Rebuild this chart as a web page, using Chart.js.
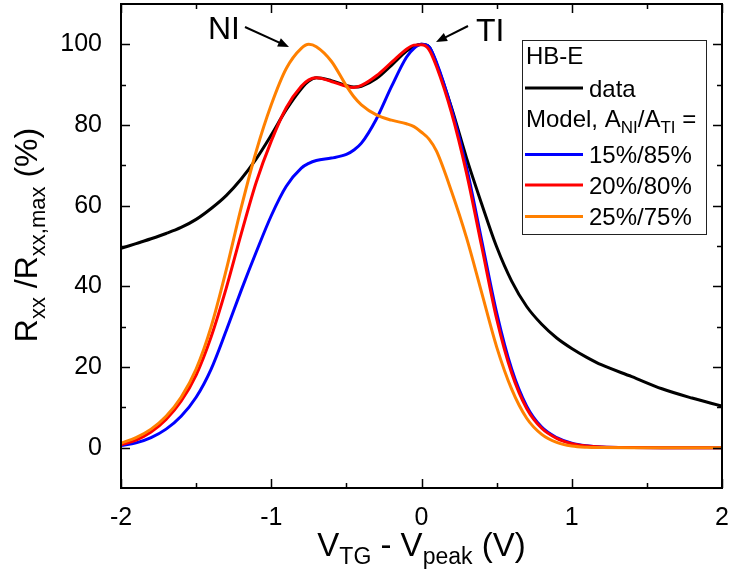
<!DOCTYPE html>
<html>
<head>
<meta charset="utf-8">
<script src="https://cdn.jsdelivr.net/npm/chart.js@4.4.0/dist/chart.umd.min.js"></script>
<style>
    html, body { margin: 0; padding: 0; background: #fff; }
</style>
</head>
<body>
<canvas id="chart" width="729" height="574"></canvas>
<script>
// valores (V_TG - V_peak en V, R/Rmax en %)
const xVals = [-2, -1.9, -1.8, -1.7, -1.6, -1.5, -1.4, -1.3, -1.2, -1.1,
    -1.0, -0.9, -0.8, -0.75, -0.7, -0.6, -0.5, -0.45, -0.4, -0.3,
    -0.2, -0.1, -0.05, 0, 0.05, 0.1, 0.2, 0.3, 0.4, 0.5,
    0.6, 0.7, 0.8, 0.9, 1.0, 1.1, 1.2, 1.4, 1.6, 1.8, 2.0];

const dataHB = [49.4, 50.6, 51.8, 53.1, 54.6, 56.6, 59.3, 62.5, 66.6, 71.6,
    77.5, 83.8, 89.0, 90.9, 91.7, 91.0, 89.8, 89.4, 89.6, 91.5,
    94.8, 98.3, 99.5, 100, 99.4, 95.2, 84.3, 71.8, 60.5, 49.8,
    41.3, 35.0, 30.6, 27.2, 24.6, 22.4, 20.5, 17.6, 14.6, 12.3, 10.3];

const model15 = [0.5, 1.2, 2.5, 4.6, 7.8, 12.5, 19.5, 29.0, 39.0, 48.5,
    57.5, 64.8, 69.3, 70.5, 71.2, 71.8, 72.7, 73.8, 75.5, 81.5,
    89.5, 96.8, 99.0, 100, 99.4, 95.5, 84.0, 69.5, 51.5, 33.5,
    19.5, 10.3, 5.1, 2.5, 1.1, 0.45, 0.15, 0.02, 0, 0, 0];

const model20 = [0.7, 1.9, 3.9, 7.0, 11.5, 18.0, 27.5, 39.5, 53.0, 65.8,
    76.0, 84.3, 89.6, 91.2, 91.7, 90.8, 89.6, 89.3, 89.8, 92.2,
    95.5, 98.8, 99.8, 99.9, 98.7, 94.5, 83.0, 68.0, 50.0, 32.0,
    18.5, 9.7, 4.8, 2.3, 1.0, 0.4, 0.15, 0.02, 0, 0, 0];

const model25 = [1.1, 2.5, 4.6, 7.8, 12.5, 19.5, 30.0, 44.0, 59.5, 73.5,
    85.0, 94.0, 99.0, 100, 99.4, 95.8, 89.7, 87.0, 85.0, 82.5,
    81.2, 80.3, 79.6, 78.2, 76.5, 73.5, 63.5, 52.0, 38.5, 25.0,
    14.5, 7.3, 3.3, 1.3, 0.4, 0.1, 0.03, 0, 0, 0, 0];

const seriesLabels = ['data', '15%/85%', '20%/80%', '25%/75%'];
const seriesColors = ['#000000', '#0000FF', '#FF0000', '#FF8000'];

const xTicks = [-2, -1, 0, 1, 2];
const xMinor = [-1.5, -0.5, 0.5, 1.5];
const yTicks = [0, 20, 40, 60, 80, 100];
const yMinor = [10, 30, 50, 70, 90];

const FAMILY = '"Liberation Sans", Arial, Helvetica, sans-serif';

function puntos(valores) {
    return xVals.map((x, i) => ({ x: x, y: valores[i] }));
}

// texto con subindices: parts = [[texto, esSub], ...]
function drawRich(ctx, parts, x, y, align, size, subSize, subDrop) {
    let total = 0;
    parts.forEach(p => {
        ctx.font = (p[1] ? subSize : size) + 'px ' + FAMILY;
        total += ctx.measureText(p[0]).width;
    });
    let cx = align === 'center' ? x - total / 2 : x;
    ctx.textAlign = 'left';
    ctx.textBaseline = 'alphabetic';
    parts.forEach(p => {
        ctx.font = (p[1] ? subSize : size) + 'px ' + FAMILY;
        ctx.fillText(p[0], cx, p[1] ? y + subDrop : y);
        cx += ctx.measureText(p[0]).width;
    });
}

function drawArrow(ctx, x1, y1, x2, y2) {
    const ang = Math.atan2(y2 - y1, x2 - x1);
    const len = 11, half = 4.5;
    ctx.beginPath();
    ctx.moveTo(x1, y1);
    ctx.lineTo(x2 - Math.cos(ang) * len * 0.8, y2 - Math.sin(ang) * len * 0.8);
    ctx.stroke();
    ctx.beginPath();
    ctx.moveTo(x2, y2);
    ctx.lineTo(x2 - Math.cos(ang) * len - Math.sin(ang) * half, y2 - Math.sin(ang) * len + Math.cos(ang) * half);
    ctx.lineTo(x2 - Math.cos(ang) * len + Math.sin(ang) * half, y2 - Math.sin(ang) * len - Math.cos(ang) * half);
    ctx.closePath();
    ctx.fill();
}

// sin relleno extra alrededor del area del grafico
function sinPadding(s) {
    s.paddingTop = 0;
    s.paddingBottom = 0;
    s.paddingLeft = 0;
    s.paddingRight = 0;
}

// marco, ticks hacia dentro, titulos, anotaciones y leyenda
const decoraciones = {
    id: 'decoraciones',
    afterDatasetsDraw(chart) {
        const { ctx, chartArea: a, scales: { x, y } } = chart;
        ctx.save();
        ctx.strokeStyle = '#000';
        ctx.fillStyle = '#000';
        ctx.lineWidth = 2;
        ctx.strokeRect(a.left, a.top, a.right - a.left, a.bottom - a.top);

        ctx.lineWidth = 1.5;
        ctx.beginPath();
        const tickX = (v, len) => {
            const px = Math.round(x.getPixelForValue(v)) + 0.5;
            ctx.moveTo(px, a.bottom); ctx.lineTo(px, a.bottom - len);
            ctx.moveTo(px, a.top); ctx.lineTo(px, a.top + len);
        };
        const tickY = (v, len) => {
            const py = Math.round(y.getPixelForValue(v)) + 0.5;
            ctx.moveTo(a.left, py); ctx.lineTo(a.left + len, py);
            ctx.moveTo(a.right, py); ctx.lineTo(a.right - len, py);
        };
        xTicks.forEach(v => tickX(v, 9));
        xMinor.forEach(v => tickX(v, 5));
        yTicks.forEach(v => tickY(v, 9));
        yMinor.forEach(v => tickY(v, 5));
        ctx.stroke();

        // titulos de ejes
        drawRich(ctx, [['V', 0], ['TG', 1], [' - V', 0], ['peak', 1], [' (V)', 0]],
            (a.left + a.right) / 2, 556, 'center', 33, 23, 8);
        ctx.save();
        ctx.translate(37, 235);
        ctx.rotate(-Math.PI / 2);
        drawRich(ctx, [['R', 0], ['xx', 1], [' /R', 0], ['xx,max', 1], [' (%)', 0]],
            0, 0, 'center', 32, 22, 8);
        ctx.restore();

        // anotaciones NI / TI
        ctx.font = '32px ' + FAMILY;
        ctx.textAlign = 'left';
        ctx.fillText('NI', 208, 39);
        ctx.fillText('TI', 476, 41);
        ctx.lineWidth = 2;
        drawArrow(ctx, 245, 27, 289, 47);
        drawArrow(ctx, 468, 26, 436, 42);

        // leyenda
        ctx.fillStyle = '#fff';
        ctx.fillRect(522, 40, 184, 194);
        ctx.strokeStyle = '#222';
        ctx.lineWidth = 1;
        ctx.strokeRect(522.5, 40.5, 184, 194);
        ctx.fillStyle = '#000';
        ctx.font = '24px ' + FAMILY;
        ctx.fillText('HB-E', 526, 64);
        drawRich(ctx, [['Model, A', 0], ['NI', 1], ['/A', 0], ['TI', 1], [' =', 0]],
            526, 127, 'left', 24, 17, 6);
        const filas = [88, 154.5, 185, 216.5];
        seriesLabels.forEach((lbl, i) => {
            ctx.strokeStyle = seriesColors[i];
            ctx.lineWidth = 3;
            ctx.beginPath();
            ctx.moveTo(525, filas[i]);
            ctx.lineTo(583, filas[i]);
            ctx.stroke();
            ctx.fillStyle = '#000';
            ctx.font = '24px ' + FAMILY;
            ctx.fillText(lbl, 589, filas[i] + 8.5);
        });
        ctx.restore();
    }
};

const series = [dataHB, model15, model20, model25];

new Chart(document.getElementById('chart'), {
    type: 'line',
    data: {
        datasets: series.map((valores, i) => ({
            label: seriesLabels[i],
            data: puntos(valores),
            borderColor: seriesColors[i],
            borderWidth: 3,
            pointRadius: 0,
            fill: false,
            cubicInterpolationMode: 'monotone',
            order: series.length - i
        }))
    },
    options: {
        responsive: false,
        animation: false,
        layout: { padding: { top: 4, right: 7, left: 0, bottom: 0 } },
        plugins: {
            legend: { display: false },
            tooltip: { enabled: false }
        },
        scales: {
            x: {
                type: 'linear',
                min: -2,
                max: 2,
                afterBuildTicks: s => { s.ticks = xTicks.map(v => ({ value: v })); },
                afterFit: s => { s.height = 86; sinPadding(s); },
                grid: { display: false },
                border: { display: false },
                ticks: {
                    color: '#000',
                    font: { family: FAMILY, size: 25 },
                    padding: 7,
                    maxRotation: 0,
                    callback: v => String(v)
                }
            },
            y: {
                min: -10,
                max: 110,
                afterBuildTicks: s => { s.ticks = yTicks.map(v => ({ value: v })); },
                afterFit: s => { s.width = 121; sinPadding(s); },
                grid: { display: false },
                border: { display: false },
                ticks: {
                    color: '#000',
                    font: { family: FAMILY, size: 25 },
                    padding: 11,
                    callback: v => String(v)
                }
            }
        }
    },
    plugins: [decoraciones]
});
</script>
</body>
</html>
